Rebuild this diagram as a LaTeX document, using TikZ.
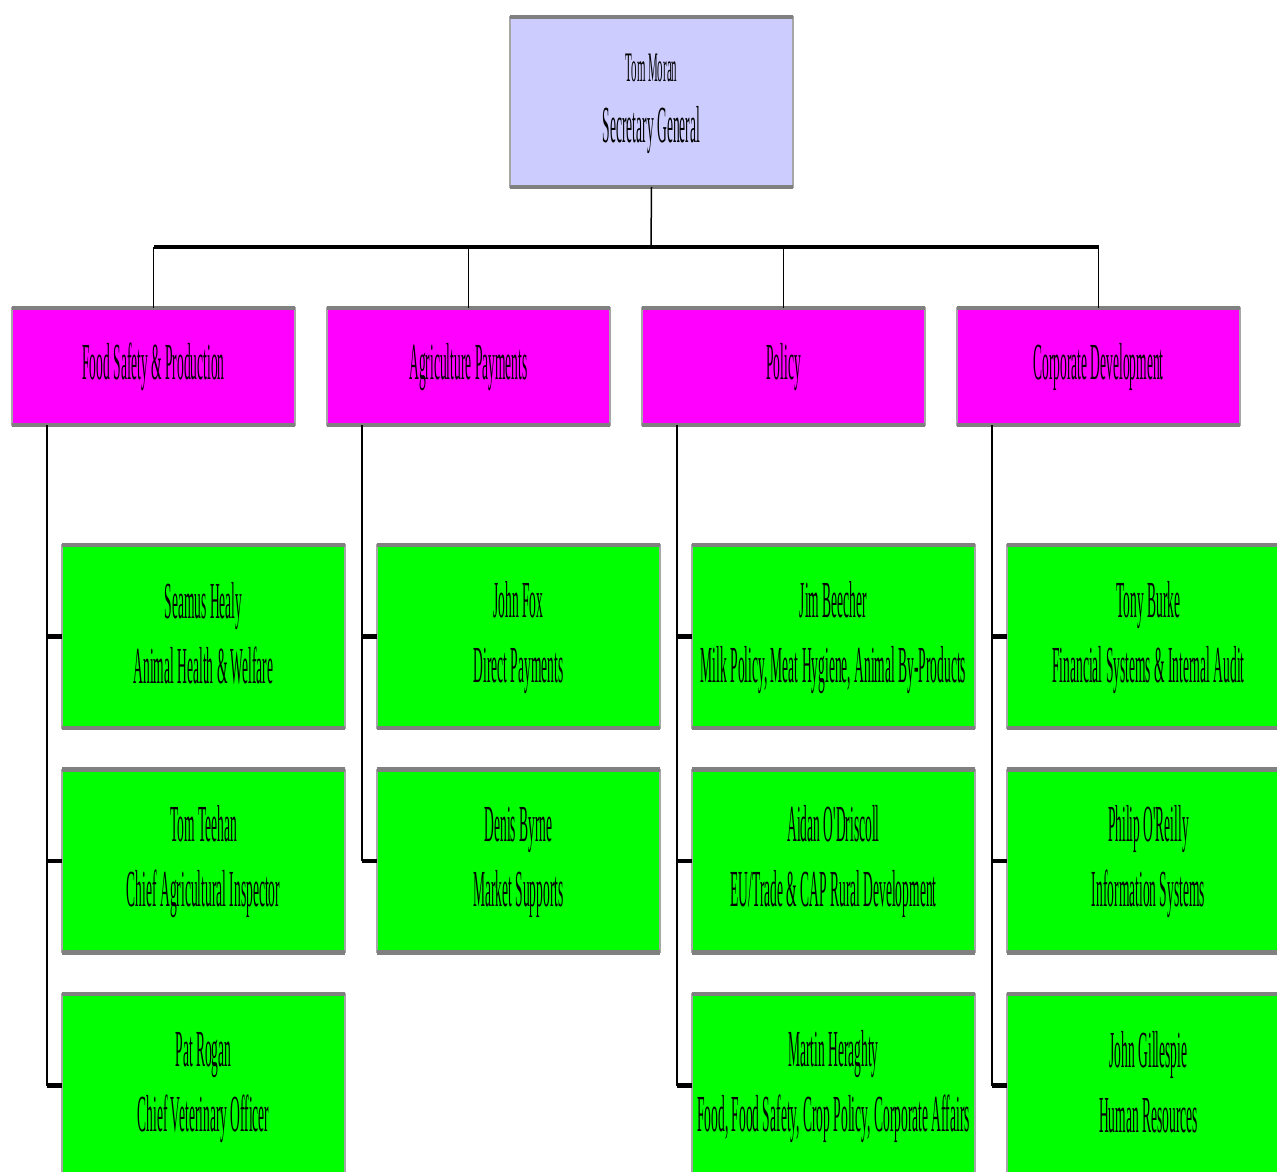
\documentclass[tikz,border=0pt]{standalone}
\usepackage{fontspec}
\newfontfamily\cond[FakeStretch=0.26]{Liberation Serif}
\usetikzlibrary{calc}
\definecolor{lav}{HTML}{CCCCFF}
\definecolor{mag}{HTML}{FF00FF}
\definecolor{grn}{HTML}{00FF00}
\definecolor{edge}{HTML}{808080}
\newcommand\stt{\rule[-10pt]{0pt}{48pt}}
\newcommand\sttop{\rule[-10pt]{0pt}{41pt}}
\tikzset{
  box/.style={minimum width=283pt, inner sep=0pt, outer sep=0pt, draw=edge!70, line width=1.5pt, align=center, text=black},
  topbox/.style={box, fill=lav, minimum height=170pt, font=\cond\fontsize{42}{61}\selectfont},
  deptbox/.style={box, fill=mag, minimum height=117pt, font=\cond\fontsize{52}{65}\selectfont},
  unitbox/.style={box, fill=grn, minimum height=183pt, font=\cond\fontsize{52}{65}\selectfont},
  bar/.style={draw=edge, line width=4.5pt},
  thin/.style={draw=black, line width=1.5pt},
  thick/.style={draw=black, line width=4.5pt},
}
\begin{document}
\begin{tikzpicture}[x=1pt,y=-1pt]
\useasboundingbox (0,0) rectangle (1277,1172);
\clip (0,0) rectangle (1277,1172);
% top
\node[topbox] (sg) at (651.5,102) {\sttop Tom Moran\\\stt{\fontsize{52}{61}\selectfont Secretary General}};
% departments
\node[deptbox] (d1) at (153.5,366.5) {\stt Food Safety \& Production};
\node[deptbox] (d2) at (468.5,366.5) {\stt Agriculture Payments};
\node[deptbox] (d3) at (783.5,366.5) {\stt Policy};
\node[deptbox] (d4) at (1098.5,366.5) {\stt Corporate Development};
% units
\node[unitbox] (a1) at (203.5,636.5) {\stt Seamus Healy\\\stt Animal Health \& Welfare};
\node[unitbox] (a2) at (203.5,861) {\stt Tom Teehan\\\stt Chief Agricultural Inspector};
\node[unitbox] (a3) at (203.5,1085.5) {\stt Pat Rogan\\\stt Chief Veterinary Officer};
\node[unitbox] (b1) at (518.5,636.5) {\stt John Fox\\\stt Direct Payments};
\node[unitbox] (b2) at (518.5,861) {\stt Denis Byrne\\\stt Market Supports};
\node[unitbox] (c1) at (833.5,636.5) {\stt Jim Beecher\\\stt Milk Policy, Meat Hygiene, Animal By-Products};
\node[unitbox] (c2) at (833.5,861) {\stt Aidan O'Driscoll\\\stt EU/Trade \& CAP Rural Development};
\node[unitbox] (c3) at (833.5,1085.5) {\stt Martin Heraghty\\\stt Food, Food Safety, Crop Policy, Corporate Affairs};
\node[unitbox] (e1) at (1148.5,636.5) {\stt Tony Burke\\\stt Financial Systems \& Internal Audit};
\node[unitbox] (e2) at (1148.5,861) {\stt Philip O'Reilly\\\stt Information Systems};
\node[unitbox] (e3) at (1148.5,1085.5) {\stt John Gillespie\\\stt Human Resources};
% gray top/bottom bars
\foreach \n in {sg,d1,d2,d3,d4,a1,a2,a3,b1,b2,c1,c2,c3,e1,e2,e3}{
  \draw[bar] (\n.north west) -- (\n.north east);
  \draw[bar] (\n.south west) -- (\n.south east);
}
% top connectors
\coordinate (bus) at (651,247);
\draw[thin] (sg.south) -- (bus);
\draw[thick] (d1.north |- bus) -- (d4.north |- bus);
\foreach \d in {d1,d2,d3,d4}{
  \draw[thin] (\d.north |- bus) -- (\d.north);
}
% department to unit connectors
\foreach \d/\last/\list in {d1/a3/{a1,a2,a3}, d2/b2/{b1,b2}, d3/c3/{c1,c2,c3}, d4/e3/{e1,e2,e3}}{
  \coordinate (\d s) at ($(\d.south west)+(35,0)$);
  \draw[thin] (\d s) -- (\d s |- \last.west);
  \foreach \u in \list{
    \draw[thick] (\d s |- \u.west) -- (\u.west);
  }
}
\end{tikzpicture}
\end{document}
